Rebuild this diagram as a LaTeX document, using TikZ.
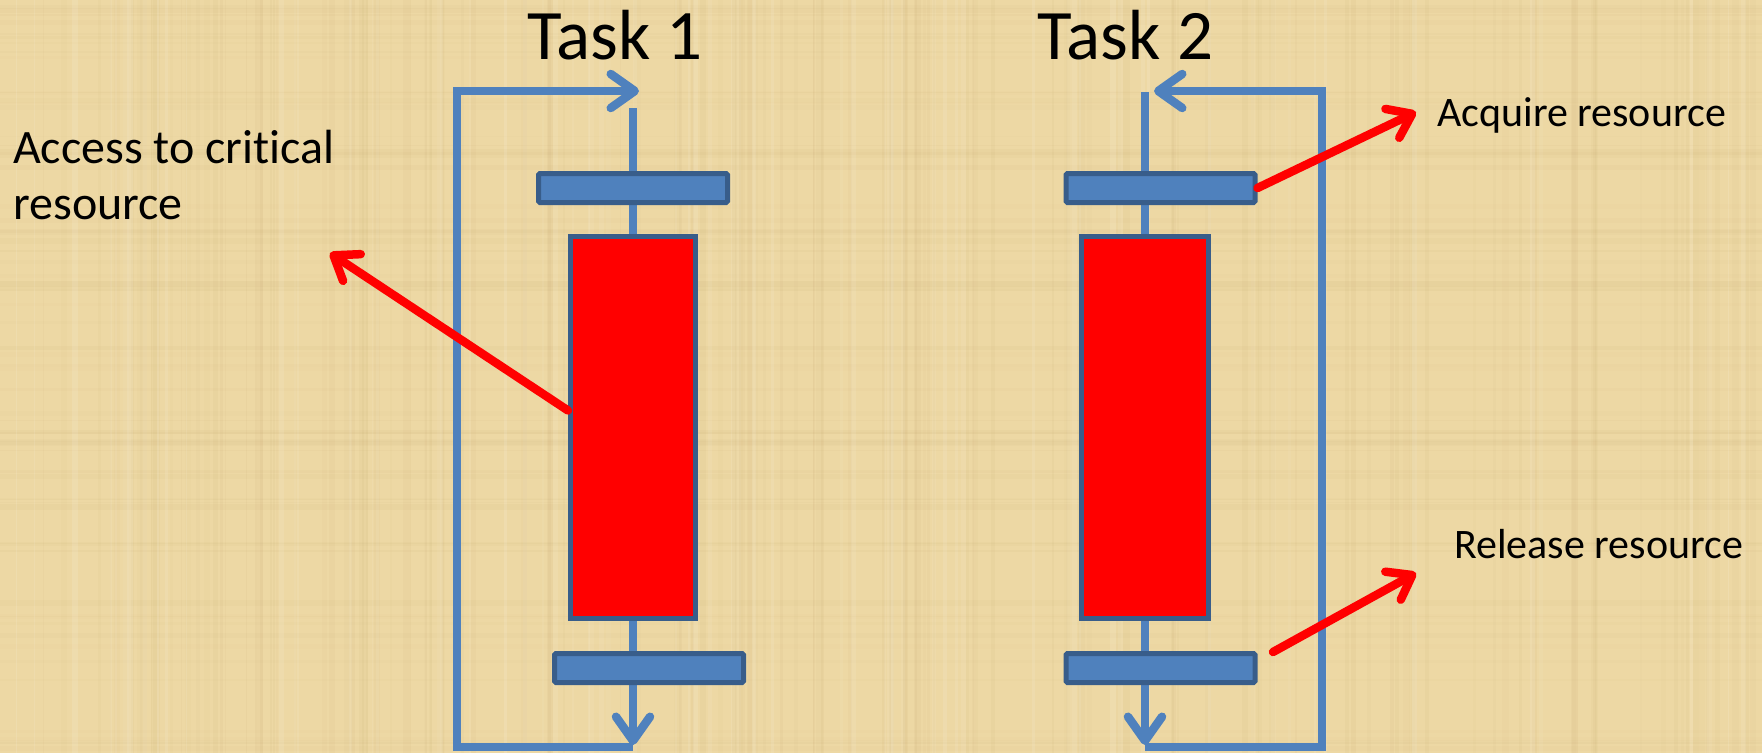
\documentclass[tikz,border=0pt]{standalone}
\usepackage{fontspec}
\setmainfont{Carlito}[Ligatures=NoCommon]
\usetikzlibrary{arrows.meta}

\definecolor{paper}{RGB}{237,216,164}
\definecolor{fibre}{RGB}{160,125,60}
\definecolor{flowblue}{RGB}{79,129,189}
\definecolor{baredge}{RGB}{56,93,138}
\definecolor{hot}{RGB}{255,0,0}

\begin{document}
\begin{tikzpicture}[x=1pt,y=-1pt,
  flow/.style={draw=flowblue, line width=8.5pt},
  flowtip/.style={-{Straight Barb[length=24pt,width=34pt,round]}},
  lockbar/.style={draw=baredge, fill=flowblue, line width=5pt, rounded corners=1.5pt,
    minimum width=189pt, minimum height=29pt, inner sep=0pt},
  critical/.style={draw=baredge, fill=hot, line width=5pt,
    minimum height=382pt, inner sep=0pt},
  pointer/.style={draw=hot, line width=8.5pt, line cap=round,
    -{Straight Barb[length=22pt,width=32pt,round]}},
  title/.style={font=\fontsize{71}{85}\selectfont, inner sep=0pt, anchor=base},
  note/.style={font=\fontsize{42}{50}\selectfont, inner sep=0pt, anchor=base west},
]
\useasboundingbox (0,0) rectangle (1762,753);

% papyrus-like paper
\fill[paper] (0,0) rectangle (1762,753);
\pgfmathsetseed{42}
\foreach \i in {1,...,140} {
  \pgfmathsetmacro\xx{rnd*1762}
  \pgfmathsetmacro\ww{1+rnd*6}
  \pgfmathsetmacro\oo{0.015+rnd*0.035}
  \fill[fibre, opacity=\oo] (\xx,0) rectangle ++(\ww,753);
}
\foreach \i in {1,...,70} {
  \pgfmathsetmacro\yy{rnd*753}
  \pgfmathsetmacro\hh{1+rnd*5}
  \pgfmathsetmacro\oo{0.01+rnd*0.03}
  \fill[fibre, opacity=\oo] (0,\yy) rectangle ++(1762,\hh);
}
\foreach \i in {1,...,70} {
  \pgfmathsetmacro\xx{rnd*1762}
  \pgfmathsetmacro\ww{1+rnd*5}
  \pgfmathsetmacro\oo{0.04+rnd*0.08}
  \fill[white, opacity=\oo] (\xx,0) rectangle ++(\ww,753);
}

% flow end points
\coordinate (t1in)   at (633,108);
\coordinate (t1out)  at (633,745);
\coordinate (t1back) at (633,747);
\coordinate (t1ret)  at (639,91);
\coordinate (t1bl)   at (457,747);
\coordinate (t1tl)   at (457,91);

\coordinate (t2in)   at (1145,92);
\coordinate (t2out)  at (1145,745);
\coordinate (t2back) at (1145,747);
\coordinate (t2ret)  at (1154,91);
\coordinate (t2br)   at (1322,747);
\coordinate (t2tr)   at (1322,91);

% task flow lines
\draw[flow, flowtip] (t1in) -- (t1out);
\draw[flow, flowtip] (t1back) -- (t1bl) -- (t1tl) -- (t1ret);
\draw[flow, flowtip] (t2in) -- (t2out);
\draw[flow, flowtip] (t2back) -- (t2br) -- (t2tr) -- (t2ret);

% task 1 blocks
\node[lockbar] (t1acq) at (633,188) {};
\node[critical, minimum width=125pt] (t1crit) at (633,427.5) {};
\node[lockbar] (t1rel) at (649,668) {};

% task 2 blocks
\node[lockbar] (t2acq) at (1160.5,188) {};
\node[critical, minimum width=127pt] (t2crit) at (1145,427.5) {};
\node[lockbar] (t2rel) at (1160.5,668) {};

% titles
\node[title] (task1) at (615,59) {Task 1};
\node[title] (task2) at (1125.5,59) {Task 2};

% labels
\node[note, font=\fontsize{48}{56}\selectfont, align=left] (access) at (13,219)
  {Access to critical\\resource};
\node[note] (acquire) at (1437,126) {Acquire resource};
\node[note] (release) at (1454,558) {Release resource};

% label pointers
\coordinate (accesstip)  at (330,253);
\coordinate (acquiretip) at (1416,112);
\coordinate (releasetip) at (1416,573);
\coordinate (releasefrom) at (1273,652);
\draw[pointer] ([yshift=17pt]t1crit.west) -- (accesstip);
\draw[pointer] (t2acq.east) -- (acquiretip);
\draw[pointer] (releasefrom) -- (releasetip);
\end{tikzpicture}
\end{document}
